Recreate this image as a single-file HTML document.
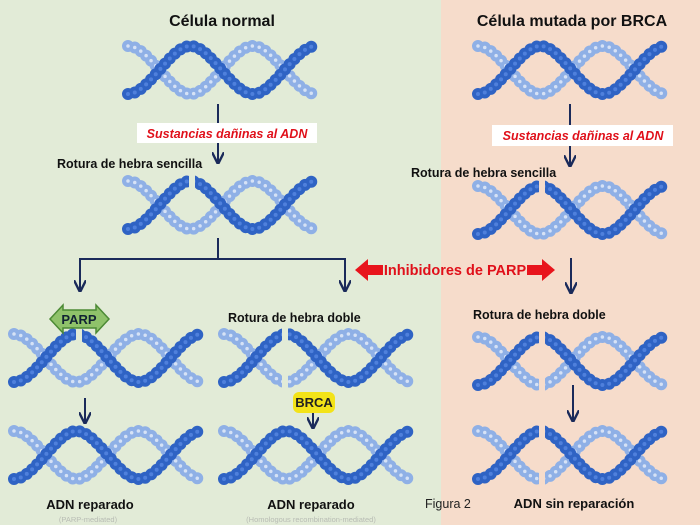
<!DOCTYPE html>
<html><head><meta charset="utf-8"><style>
body{margin:0;width:700px;height:525px;overflow:hidden;font-family:"Liberation Sans",sans-serif}
</style></head><body>
<svg width="700" height="525" viewBox="0 0 700 525" xmlns="http://www.w3.org/2000/svg" font-family="Liberation Sans, sans-serif">
<defs>
<symbol id="h" viewBox="-6 -6 200 68" overflow="visible">
<path d="M0,4 C21,4 42,52 62.5,52 S104,4 125,4 S167,52 188,52" fill="none" stroke="#8fb0e6" stroke-width="12" stroke-linecap="round" stroke-dasharray="0 7"/>
<path d="M0,4 C21,4 42,52 62.5,52 S104,4 125,4 S167,52 188,52" fill="none" stroke="#d6e2f6" stroke-width="3.5" stroke-linecap="round" stroke-dasharray="0 7"/>
<path d="M0,52 C21,52 42,4 62.5,4 S104,52 125,52 S167,4 188,4" fill="none" stroke="#2f63c4" stroke-width="12" stroke-linecap="round" stroke-dasharray="0 7"/>
<path d="M0,52 C21,52 42,4 62.5,4 S104,52 125,52 S167,4 188,4" fill="none" stroke="#4f80dc" stroke-width="4" stroke-linecap="round" stroke-dasharray="0 7"/>
</symbol>
<marker id="a" viewBox="0 0 10 10" refX="9" refY="5" markerWidth="6" markerHeight="6" orient="auto"><path d="M0,0 L10,5 L0,10" fill="none" stroke="#1a2a5a" stroke-width="2"/></marker>
</defs>
<rect x="0" y="0" width="441" height="525" fill="#e2ebd7"/>
<rect x="441" y="0" width="259" height="525" fill="#f6dccb"/>

<g font-weight="bold" font-size="16" fill="#111" text-anchor="middle">
<text x="222" y="26">Célula normal</text>
<text x="572" y="26">Célula mutada por BRCA</text>
</g>

<use href="#h" x="122" y="36" width="200" height="68"/>
<use href="#h" x="472" y="36" width="200" height="68"/>
<use href="#h" x="122" y="171" width="200" height="68"/>
<use href="#h" x="472" y="176" width="200" height="68"/>
<use href="#h" x="8" y="324" width="200" height="68"/>
<use href="#h" x="8" y="421" width="200" height="68"/>
<use href="#h" x="218" y="324" width="200" height="68"/>
<use href="#h" x="218" y="421" width="200" height="68"/>
<use href="#h" x="472" y="327" width="200" height="68"/>
<use href="#h" x="472" y="421" width="200" height="68"/>
<!-- gaps for breaks -->
<rect x="189" y="175" width="6" height="22" fill="#e2ebd7"/>
<rect x="76" y="328" width="6" height="22" fill="#e2ebd7"/>
<rect x="282" y="328" width="6" height="60" fill="#e2ebd7"/>
<rect x="539" y="180" width="6" height="22" fill="#f6dccb"/>
<rect x="539" y="331" width="6" height="60" fill="#f6dccb"/>
<rect x="539" y="425" width="6" height="60" fill="#f6dccb"/>

<g stroke="#1a2a5a" stroke-width="2" fill="none">
<line x1="218" y1="104" x2="218" y2="123"/>
<line x1="218" y1="143" x2="218" y2="163" marker-end="url(#a)"/>
<line x1="570" y1="104" x2="570" y2="125"/>
<line x1="570" y1="145" x2="570" y2="166" marker-end="url(#a)"/>
<polyline points="218,238 218,259"/>
<polyline points="80,290 80,259 345,259 345,290"/>
<line x1="80" y1="270" x2="80" y2="291" marker-end="url(#a)"/>
<line x1="345" y1="270" x2="345" y2="291" marker-end="url(#a)"/>
<line x1="571" y1="258" x2="571" y2="293" marker-end="url(#a)"/>
<line x1="85" y1="398" x2="85" y2="423" marker-end="url(#a)"/>
<line x1="313" y1="412" x2="313" y2="428" marker-end="url(#a)"/>
<line x1="573" y1="385" x2="573" y2="421" marker-end="url(#a)"/>
</g>

<rect x="137" y="123" width="180" height="20" fill="#fff"/>
<rect x="492" y="125" width="181" height="21" fill="#fff"/>
<g font-weight="bold" font-style="italic" font-size="12.5" fill="#e0101a" text-anchor="middle">
<text x="227" y="138">Sustancias dañinas al ADN</text>
<text x="583" y="140">Sustancias dañinas al ADN</text>
</g>

<g font-weight="bold" font-size="12.5" fill="#111">
<text x="57" y="168">Rotura de hebra sencilla</text>
<text x="411" y="177">Rotura de hebra sencilla</text>
<text x="228" y="322">Rotura de hebra doble</text>
<text x="473" y="319">Rotura de hebra doble</text>
</g>

<path d="M355,270 L368,259 L368,265 L383,265 L383,275 L368,275 L368,281 Z" fill="#e8141c"/>
<path d="M555,270 L542,259 L542,265 L527,265 L527,275 L542,275 L542,281 Z" fill="#e8141c"/>
<text x="455" y="275" font-weight="bold" font-size="14.5" fill="#e0101a" text-anchor="middle">Inhibidores de PARP</text>

<path d="M50,319 L63,305 L63,310 L96,310 L96,305 L109,319 L96,333 L96,328 L63,328 L63,333 Z" fill="#8fc26a" stroke="#4c8a35" stroke-width="1.5"/>
<text x="79" y="324" font-weight="bold" font-size="13" fill="#123" text-anchor="middle">PARP</text>

<rect x="293" y="392" width="42" height="21" rx="6" fill="#f3e318"/>
<text x="314" y="407" font-weight="bold" font-size="13" fill="#222" text-anchor="middle">BRCA</text>

<g font-weight="bold" font-size="13" fill="#111" text-anchor="middle">
<text x="90" y="509">ADN reparado</text>
<text x="311" y="509">ADN reparado</text>
<text x="574" y="508">ADN sin reparación</text>
</g>
<text x="425" y="508" font-size="12.5" fill="#222">Figura 2</text>
<g font-size="7.5" fill="#b8bcb4" text-anchor="middle">
<text x="88" y="522">(PARP-mediated)</text>
<text x="311" y="522">(Homologous recombination-mediated)</text>
</g>
</svg>
</body></html>
